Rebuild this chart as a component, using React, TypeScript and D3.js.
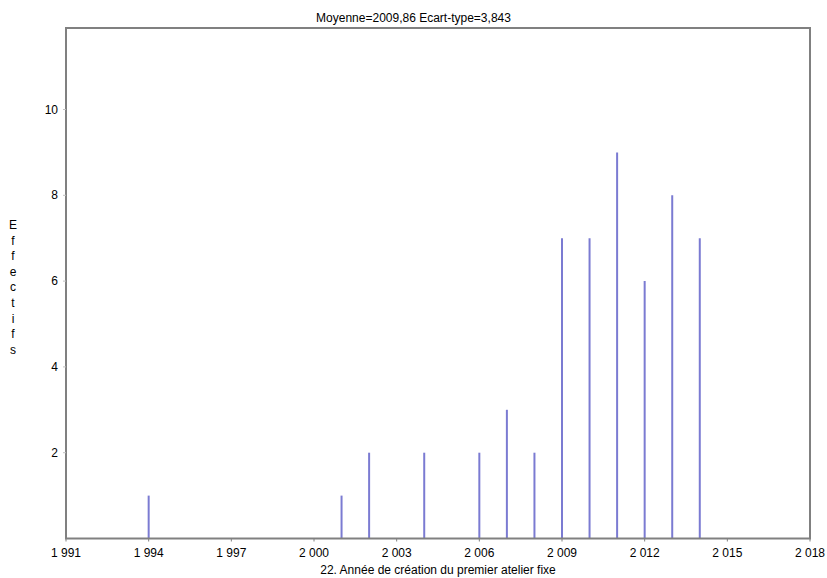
import React from "react";
import * as d3 from "d3";

const years = [1994, 2001, 2002, 2004, 2006, 2007, 2008, 2009, 2010, 2011, 2012, 2013, 2014];
const counts = [1, 1, 2, 2, 2, 3, 2, 7, 7, 9, 6, 8, 7];
const xTicks = [1991, 1994, 1997, 2000, 2003, 2006, 2009, 2012, 2015, 2018];
const yTicks = [2, 4, 6, 8, 10];
const title = "Moyenne=2009,86 Ecart-type=3,843";
const xLabel = "22. Année de création du premier atelier fixe";
const yLabel = "Effectifs";

const W = 827, H = 578;
const L = 66, R = 810, T = 28, B = 538.5;

export default function App() {
  const x = d3.scaleLinear().domain([1991, 2018]).range([L, R]);
  const y = d3.scaleLinear().domain([0, 11.9]).range([B, T]);
  const fmt = (v: number) => {
    const s = String(v);
    return s.length > 3 ? s.slice(0, s.length - 3) + " " + s.slice(-3) : s;
  };
  const font = "'Liberation Sans', Arial, sans-serif";
  return (
    <svg width={W} height={H} style={{ position: "absolute", left: 0, top: 0, background: "#fff" }} fontFamily={font}>
      <rect x={0} y={0} width={W} height={H} fill="#fff" />
      <text x={W / 2} y={22} textAnchor="middle" fontSize={12} fill="#000">{title}</text>
      {years.map((yr, i) => (
        <line key={yr} x1={x(yr)} x2={x(yr)} y1={y(0)} y2={y(counts[i])} stroke="#7b7bd2" strokeWidth={2} />
      ))}
      <rect x={L} y={T} width={R - L} height={B - T} fill="none" stroke="#808080" strokeWidth={2} />
      {xTicks.map((t) => (
        <g key={t}>
          <line x1={x(t)} x2={x(t)} y1={B} y2={B + 3} stroke="#808080" strokeWidth={1} />
          <text x={x(t)} y={B + 18} textAnchor="middle" fontSize={12} fill="#000">{fmt(t)}</text>
        </g>
      ))}
      {yTicks.map((t) => (
        <g key={t}>
          <line x1={L - 3} x2={L} y1={y(t)} y2={y(t)} stroke="#c0c0c0" strokeWidth={1} />
          <text x={L - 8} y={y(t) + 4} textAnchor="end" fontSize={12} fill="#000">{t}</text>
        </g>
      ))}
      <text x={(L + R) / 2} y={574} textAnchor="middle" fontSize={12} fill="#000">{xLabel}</text>
      {yLabel.split("").map((c, i) => (
        <text key={i} x={13} y={229 + i * 15.6} textAnchor="middle" fontSize={12} fill="#000">{c}</text>
      ))}
    </svg>
  );
}
